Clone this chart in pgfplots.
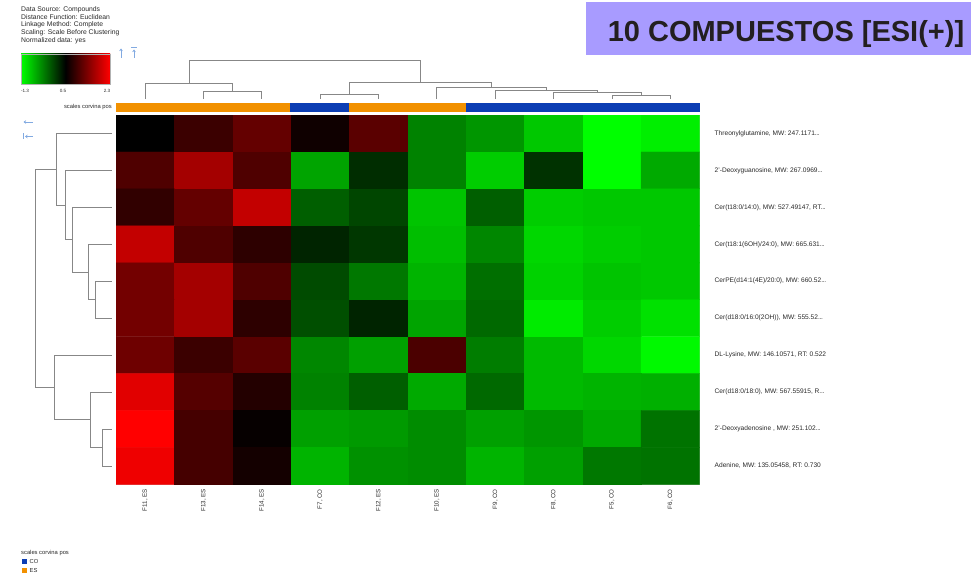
\documentclass[border=0pt]{standalone}
\usepackage{pgfplots}
\pgfplotsset{compat=1.18}
\usepackage{fontspec}
\setmainfont{Liberation Sans}
\usetikzlibrary{arrows.meta}
\definecolor{esor}{RGB}{242,145,0}
\definecolor{coblue}{RGB}{12,62,180}
\definecolor{dend}{RGB}{135,135,135}
\definecolor{titlebg}{RGB}{168,155,255}
\definecolor{icon}{RGB}{130,170,225}
\definecolor{txt}{RGB}{40,40,40}
\definecolor{titletxt}{RGB}{35,31,32}
\definecolor{cgreen}{RGB}{0,255,0}
\definecolor{cred}{RGB}{255,0,0}
\newcommand{\dd}{.\kern-0.05em.\kern-0.05em.}
\begin{document}
\begin{tikzpicture}
\begin{scope}[x=1pt,y=-1pt]
\path[use as bounding box] (0,0) rectangle (974,580);
% info text
\begin{scope}[every node/.style={anchor=west, inner sep=0pt, font=\fontsize{6.8}{7.5}\selectfont, text=txt}]
\node at (21,9.7) {Data Source: Compounds};
\node at (21,17.4) {Distance Function: Euclidean};
\node at (21,25.1) {Linkage Method: Complete};
\node at (21,32.8) {Scaling: Scale Before Clustering};
\node at (21,40.5) {Normalized data: yes};
\end{scope}
% colour scale
\shade[left color=cgreen, right color=cred, middle color=black] (21,54) rectangle (110,84);
\draw[black!30, line width=0.4pt] (21,54) rectangle (110,84);
\begin{scope}[every node/.style={inner sep=0pt, font=\fontsize{4.6}{5}\selectfont, text=txt}]
\node at (25,91) {-1.3};
\node at (63,91) {0.5};
\node at (107,91) {2.3};
\end{scope}
% icons
\draw[icon, line width=0.8pt, -{Stealth[length=2.5pt,width=3.5pt]}] (121,58)--(121,48.5);
\draw[icon, line width=0.8pt, -{Stealth[length=2.5pt,width=3.5pt]}] (134,58)--(134,49.5);
\draw[icon, line width=0.8pt] (131,47.5)--(137,47.5);
\draw[icon, line width=0.8pt, -{Stealth[length=2.5pt,width=3.5pt]}] (33,122)--(23.5,122);
\draw[icon, line width=0.8pt, -{Stealth[length=2.5pt,width=3.5pt]}] (33,136.5)--(25,136.5);
\draw[icon, line width=0.8pt] (23.5,133.5)--(23.5,139.5);
% annotation label
\node[anchor=east, inner sep=0pt, font=\fontsize{5.8}{6}\selectfont, text=txt] at (112,107.5) {scales corvina pos};
% title
\fill[titlebg] (586,2) rectangle (971,55);
\node[anchor=base, inner sep=0pt, font=\fontsize{29}{34}\selectfont\bfseries, text=titletxt] at (786,41.7) {10 COMPUESTOS [ESI(+)]};
% bottom legend
\node[anchor=west, inner sep=0pt, font=\fontsize{5.8}{6}\selectfont, text=txt] at (21,553) {scales corvina pos};
\fill[coblue] (21.5,559) rectangle (26.5,564);
\node[anchor=west, inner sep=0pt, font=\fontsize{5.8}{6}\selectfont, text=txt] at (29.5,561.5) {CO};
\fill[esor] (21.5,568) rectangle (26.5,573);
\node[anchor=west, inner sep=0pt, font=\fontsize{5.8}{6}\selectfont, text=txt] at (29.5,570.5) {ES};
\end{scope}

% overlay axis in pixel coordinates: dendrograms and annotation bar
\begin{axis}[at={(0pt,0pt)}, anchor=north west, scale only axis, width=974pt, height=580pt,
  xmin=0, xmax=974, ymin=0, ymax=580, y dir=reverse, hide axis, clip=false]
% annotation bar
\addplot[draw=none, fill=esor] coordinates {(116,102.7) (290,102.7) (290,111.5) (116,111.5)} -- cycle;
\addplot[draw=none, fill=coblue] coordinates {(290,102.7) (349.3,102.7) (349.3,111.5) (290,111.5)} -- cycle;
\addplot[draw=none, fill=esor] coordinates {(349.3,102.7) (466,102.7) (466,111.5) (349.3,111.5)} -- cycle;
\addplot[draw=none, fill=coblue] coordinates {(466,102.7) (699.5,102.7) (699.5,111.5) (466,111.5)} -- cycle;
% column dendrogram
\addplot[dend, line width=1pt, mark=none] coordinates {(203.5,99) (203.5,91.7) (261.9,91.7) (261.9,99)};
\addplot[dend, line width=1pt, mark=none] coordinates {(145.2,99) (145.2,83.3) (232.7,83.3) (232.7,91.7)};
\addplot[dend, line width=1pt, mark=none] coordinates {(320.2,99) (320.2,94.3) (378.6,94.3) (378.6,99)};
\addplot[dend, line width=1pt, mark=none] coordinates {(612,99) (612,95.5) (670.3,95.5) (670.3,99)};
\addplot[dend, line width=1pt, mark=none] coordinates {(553.6,99) (553.6,92.5) (641.2,92.5) (641.2,95.5)};
\addplot[dend, line width=1pt, mark=none] coordinates {(495.3,99) (495.3,90.5) (597.4,90.5) (597.4,92.5)};
\addplot[dend, line width=1pt, mark=none] coordinates {(436.9,99) (436.9,87) (546.3,87) (546.3,90.5)};
\addplot[dend, line width=1pt, mark=none] coordinates {(349.4,94.3) (349.4,82.7) (491.6,82.7) (491.6,87)};
\addplot[dend, line width=1pt, mark=none] coordinates {(189,83.3) (189,60.8) (420.5,60.8) (420.5,82.7)};
% row dendrogram
\addplot[dend, line width=1pt, mark=none] coordinates {(111.7,281.3) (95.7,281.3) (95.7,318.2) (111.7,318.2)};
\addplot[dend, line width=1pt, mark=none] coordinates {(111.7,244.3) (88.3,244.3) (88.3,299.75) (95.7,299.75)};
\addplot[dend, line width=1pt, mark=none] coordinates {(111.7,207.4) (72.7,207.4) (72.7,272) (88.3,272)};
\addplot[dend, line width=1pt, mark=none] coordinates {(111.7,170.4) (65.3,170.4) (65.3,239.7) (72.7,239.7)};
\addplot[dend, line width=1pt, mark=none] coordinates {(111.7,133.5) (56.7,133.5) (56.7,205.05) (65.3,205.05)};
\addplot[dend, line width=1pt, mark=none] coordinates {(111.7,429.1) (102,429.1) (102,466) (111.7,466)};
\addplot[dend, line width=1pt, mark=none] coordinates {(111.7,392.1) (90,392.1) (90,447.55) (102,447.55)};
\addplot[dend, line width=1pt, mark=none] coordinates {(111.7,355.2) (54.3,355.2) (54.3,419.8) (90,419.8)};
\addplot[dend, line width=1pt, mark=none] coordinates {(56.7,169.3) (35,169.3) (35,387.5) (54.3,387.5)};
\end{axis}

% heatmap
\begin{axis}[at={(116pt,-115pt)}, anchor=north west, scale only axis, width=583.5pt, height=369.5pt,
  xmin=-0.5, xmax=9.5, ymin=-0.5, ymax=9.5, y dir=reverse, enlargelimits=false,
  colormap={rg}{rgb255=(0,255,0) rgb255=(0,0,0) rgb255=(255,0,0)},
  point meta min=-1.3, point meta max=2.3,
  xtick={0,1,2,3,4,5,6,7,8,9}, ytick={0,1,2,3,4,5,6,7,8,9},
  xticklabels={{F11, ES},{F13, ES},{F14, ES},{F7, CO},{F12, ES},{F10, ES},{F9, CO},{F8, CO},{F5, CO},{F6, CO}},
  yticklabels={{Threonylglutamine, MW: 247.1171\dd},{2'-Deoxyguanosine, MW: 267.0969\dd},{Cer(t18:0/14:0), MW: 527.49147, RT\dd},{Cer(t18:1(6OH)/24:0), MW: 665.631\dd},{CerPE(d14:1(4E)/20:0), MW: 660.52\dd},{Cer(d18:0/16:0(2OH)), MW: 555.52\dd},{DL-Lysine, MW: 146.10571, RT: 0.522},{Cer(d18:0/18:0), MW: 567.55915, R\dd},{2'-Deoxyadenosine , MW: 251.102\dd},{Adenine, MW: 135.05458, RT: 0.730}},
  major tick length=0pt,
  axis line style={draw=black!20, line width=0.5pt},
  xticklabel style={yshift=-4.5pt, rotate=90, anchor=east, inner sep=0pt, font=\fontsize{6.2}{7}\selectfont, text=txt},
  yticklabel pos=right,
  yticklabel style={xshift=15pt, anchor=west, inner sep=0pt, font=\fontsize{6.6}{7}\selectfont, text=txt},
]
\addplot[matrix plot*, mesh/cols=10, point meta=explicit, draw=none] table[meta=c, row sep=\\] {
x y c\\
0 0 0.50\\ 1 0 0.92\\ 2 0 1.21\\ 3 0 0.61\\ 4 0 1.14\\ 5 0 -0.42\\ 6 0 -0.56\\ 7 0 -0.91\\ 8 0 -1.30\\ 9 0 -1.19\\
0 1 1.06\\ 1 1 1.66\\ 2 1 1.06\\ 3 1 -0.66\\ 4 1 0.18\\ 5 1 -0.42\\ 6 1 -0.95\\ 7 1 0.15\\ 8 1 -1.30\\ 9 1 -0.70\\
0 2 0.85\\ 1 2 1.21\\ 2 2 1.88\\ 3 2 -0.17\\ 4 2 0.01\\ 5 2 -0.88\\ 6 2 -0.17\\ 7 2 -0.95\\ 8 2 -0.91\\ 9 2 -0.91\\
0 3 1.88\\ 1 3 1.06\\ 2 3 0.82\\ 3 3 0.25\\ 4 3 0.11\\ 5 3 -0.84\\ 6 3 -0.45\\ 7 3 -1.02\\ 8 3 -0.95\\ 9 3 -0.91\\
0 4 1.31\\ 1 4 1.66\\ 2 4 1.06\\ 3 4 -0.03\\ 4 4 -0.35\\ 5 4 -0.77\\ 6 4 -0.28\\ 7 4 -0.98\\ 8 4 -0.88\\ 9 4 -0.91\\
0 5 1.31\\ 1 5 1.66\\ 2 5 0.82\\ 3 5 -0.06\\ 4 5 0.25\\ 5 5 -0.66\\ 6 5 -0.24\\ 7 5 -1.16\\ 8 5 -0.95\\ 9 5 -1.09\\
0 6 1.28\\ 1 6 0.92\\ 2 6 1.14\\ 3 6 -0.45\\ 4 6 -0.63\\ 5 6 1.03\\ 6 6 -0.38\\ 7 6 -0.81\\ 8 6 -1.02\\ 9 6 -1.26\\
0 7 2.09\\ 1 7 1.10\\ 2 7 0.75\\ 3 7 -0.42\\ 4 7 -0.17\\ 5 7 -0.70\\ 6 7 -0.24\\ 7 7 -0.81\\ 8 7 -0.77\\ 9 7 -0.74\\
0 8 2.30\\ 1 8 0.99\\ 2 8 0.54\\ 3 8 -0.63\\ 4 8 -0.59\\ 5 8 -0.49\\ 6 8 -0.63\\ 7 8 -0.56\\ 8 8 -0.70\\ 9 8 -0.31\\
0 9 2.19\\ 1 9 0.99\\ 2 9 0.64\\ 3 9 -0.77\\ 4 9 -0.52\\ 5 9 -0.49\\ 6 9 -0.77\\ 7 9 -0.63\\ 8 9 -0.35\\ 9 9 -0.31\\
};
\end{axis}
\end{tikzpicture}
\end{document}
